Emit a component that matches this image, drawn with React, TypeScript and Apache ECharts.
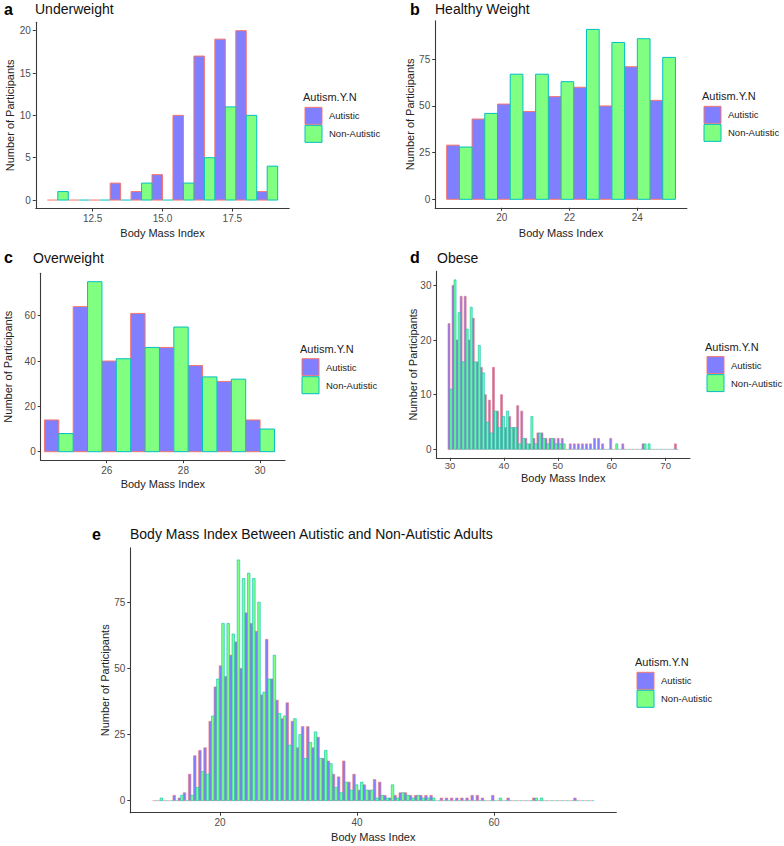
import React, { useEffect, useRef } from 'react';
import * as echarts from 'echarts';

// ---------------- DATA ----------------
const BIN_WIDTH = 0.75;

// a: Underweight (first bin left edge 10.875)
const aFirstEdge = 10.875;
const aAutistic = [0, 0, 0, 2, 1, 3, 10, 17, 19, 20, 1];
const aNonAutistic = [1, 0, 0, 0, 2, 0, 2, 5, 11, 10, 4];
const aXTicks = [12.5, 15, 17.5];
const aYTicks = [0, 5, 10, 15, 20];

// b: Healthy Weight (first bin left edge 18.375)
const bFirstEdge = 18.375;
const bAutistic = [29, 43, 51, 47, 55, 60, 50, 71, 53];
const bNonAutistic = [28, 46, 67, 67, 63, 91, 84, 86, 76];
const bXTicks = [20, 22, 24];
const bYTicks = [0, 25, 50, 75];

// c: Overweight (first bin left edge 24.375)
const cFirstEdge = 24.375;
const cAutistic = [14, 64, 40, 61, 46, 38, 31, 14];
const cNonAutistic = [8, 75, 41, 46, 55, 33, 32, 10];
const cXTicks = [26, 28, 30];
const cYTicks = [0, 20, 40, 60];

// d: Obese (first bin left edge 29.625)
const dFirstEdge = 29.625;
const dAutistic = [23, 30, 20, 28, 28, 20, 24, 16, 15, 10, 9, 15, 7, 10, 4, 6, 4, 8, 7, 2, 1, 2, 3, 3, 2, 2, 2, 2, 2, 0, 1, 1, 1, 1, 1, 1, 2, 2, 1, 0, 2, 0, 0, 1, 0, 0, 0, 0, 1, 0, 0, 0, 0, 0, 0, 0, 1];
const dNonAutistic = [11, 31, 25, 16, 22, 26, 16, 19, 14, 5, 3, 7, 4, 6, 7, 4, 4, 1, 2, 1, 6, 1, 3, 2, 1, 2, 1, 1, 1, 0, 0, 0, 0, 0, 0, 0, 0, 0, 0, 0, 0, 1, 0, 0, 0, 0, 0, 0, 1, 1, 0, 0, 0, 0, 0, 0, 0];
const dXTicks = [30, 40, 50, 60, 70];
const dYTicks = [0, 10, 20, 30];

// e: all adults (first bin left edge 10.125)
const eFirstEdge = 10.125;
const eAutistic = [0, 0, 0, 0, 2, 1, 3, 10, 17, 19, 20, 30, 43, 51, 47, 55, 60, 50, 71, 67, 64, 40, 61, 46, 38, 31, 37, 30, 20, 28, 28, 20, 24, 16, 15, 10, 9, 15, 7, 10, 4, 6, 4, 8, 7, 2, 1, 2, 3, 3, 2, 2, 2, 2, 2, 0, 1, 1, 1, 1, 1, 1, 2, 2, 1, 0, 2, 0, 0, 1, 0, 0, 0, 0, 1, 0, 0, 0, 0, 0, 0, 0, 1, 0, 0, 0];
const eNonAutistic = [0, 1, 0, 0, 0, 2, 0, 2, 5, 11, 10, 32, 46, 67, 67, 63, 91, 84, 86, 84, 75, 41, 46, 55, 33, 32, 21, 31, 25, 16, 22, 26, 16, 19, 14, 5, 3, 7, 4, 6, 7, 4, 4, 1, 2, 1, 6, 1, 3, 2, 1, 2, 1, 1, 1, 0, 0, 0, 0, 0, 0, 0, 0, 0, 0, 0, 0, 1, 0, 0, 0, 0, 0, 0, 1, 1, 0, 0, 0, 0, 0, 0, 0, 0, 0, 0];
const eXTicks = [20, 40, 60];
const eYTicks = [0, 25, 50, 75];

const groupNames = ['Autistic', 'Non-Autistic'];
const legendTitle = 'Autism.Y.N';
const xTitle = 'Body Mass Index';
const yTitle = 'Number of Participants';

// ---------------- STYLE / LAYOUT ----------------
const FONT = '"Liberation Sans", Arial, Helvetica, sans-serif';
const AUT_FILL = '#7F7FFF';
const NON_FILL = '#80FF80';
const AUT_LINE = '#F8766D';
const NON_LINE = '#00BFC4';
const AXIS_COLOR = '#3a3a3a';
const LABEL_COLOR = '#4D4D4D';

type Panel = {
  tag: string;
  title: string;
  firstEdge: number;
  aut: number[];
  non: number[];
  xTicks: number[];
  yTicks: number[];
  xDecimals: number;
  grid: { left: number; top: number; width: number; height: number };
  xMin: number; xMax: number; yMin: number; yMax: number;
  tagPos: [number, number];
  titlePos: [number, number];
  yTitleX: number;
  xTitleY: number;
  legendX: number;
  barLine: number;
  titleSize: number;
  xLabelMargin: number;
  xLabelSize: number;
};

const panels: Panel[] = [
  {
    tag: 'a', title: 'Underweight', firstEdge: aFirstEdge, aut: aAutistic, non: aNonAutistic,
    xTicks: aXTicks, yTicks: aYTicks, xDecimals: 1,
    grid: { left: 35.8, top: 22.2, width: 253.4, height: 186.3 },
    xMin: 10.4625, xMax: 19.5375, yMin: -1, yMax: 21,
    tagPos: [4, 9], titlePos: [35, 9], yTitleX: 10, xTitleY: 232.5, legendX: 305, barLine: 1, titleSize: 14,
    xLabelMargin: 5, xLabelSize: 10,
  },
  {
    tag: 'b', title: 'Healthy Weight', firstEdge: bFirstEdge, aut: bAutistic, non: bNonAutistic,
    xTicks: bXTicks, yTicks: bYTicks, xDecimals: 0,
    grid: { left: 435.2, top: 20.9, width: 251.7, height: 186.9 },
    xMin: 18.0375, xMax: 25.4625, yMin: -4.55, yMax: 95.55,
    tagPos: [410, 9], titlePos: [435, 9], yTitleX: 410, xTitleY: 233, legendX: 704, barLine: 1, titleSize: 14,
    xLabelMargin: 5, xLabelSize: 10,
  },
  {
    tag: 'c', title: 'Overweight', firstEdge: cFirstEdge, aut: cAutistic, non: cNonAutistic,
    xTicks: cXTicks, yTicks: cYTicks, xDecimals: 0,
    grid: { left: 40.7, top: 273.2, width: 244.3, height: 187 },
    xMin: 24.278, xMax: 30.65, yMin: -3.75, yMax: 78.75,
    tagPos: [4, 257], titlePos: [33, 258], yTitleX: 8, xTitleY: 484, legendX: 302, barLine: 1, titleSize: 14,
    xLabelMargin: 5, xLabelSize: 10,
  },
  {
    tag: 'd', title: 'Obese', firstEdge: dFirstEdge, aut: dAutistic, non: dNonAutistic,
    xTicks: dXTicks, yTicks: dYTicks, xDecimals: 0,
    grid: { left: 436.45, top: 271.4, width: 253.5, height: 186.4 },
    xMin: 27.4875, xMax: 74.5125, yMin: -1.55, yMax: 32.55,
    tagPos: [410, 257], titlePos: [437, 258], yTitleX: 413, xTitleY: 477.5, legendX: 707, barLine: 0.6, titleSize: 14,
    xLabelMargin: 3, xLabelSize: 9.5,
  },
  {
    tag: 'e', title: 'Body Mass Index Between Autistic and Non-Autistic Adults', firstEdge: eFirstEdge,
    aut: eAutistic, non: eNonAutistic, xTicks: eXTicks, yTicks: eYTicks, xDecimals: 0,
    grid: { left: 130.3, top: 547.9, width: 486, height: 264.8 },
    xMin: 6.9, xMax: 77.85, yMin: -4.55, yMax: 95.55,
    tagPos: [92, 534], titlePos: [130, 534], yTitleX: 105, xTitleY: 836.5, legendX: 637, barLine: 0.6, titleSize: 14,
    xLabelMargin: 5, xLabelSize: 10,
  },
];

function histSeries(idx: number, values: number[], firstEdge: number, half: number, fill: string, stroke: string, lw: number) {
  const data = values.map((v, i) => {
    const x0 = firstEdge + i * BIN_WIDTH + (half * BIN_WIDTH) / 2;
    return [x0, x0 + BIN_WIDTH / 2, v];
  });
  return {
    type: 'custom',
    xAxisIndex: idx,
    yAxisIndex: idx,
    data,
    silent: true,
    clip: false,
    encode: { x: [0, 1], y: 2 },
    renderItem: (_params: any, api: any) => {
      const x0 = api.value(0);
      const x1 = api.value(1);
      const v = api.value(2);
      const p0 = api.coord([x0, 0]);
      const p1 = api.coord([x1, v]);
      if (v === 0) {
        return {
          type: 'line',
          shape: { x1: p0[0], y1: p0[1], x2: p1[0], y2: p0[1] },
          style: { stroke, lineWidth: lw },
        };
      }
      return {
        type: 'rect',
        shape: { x: p0[0], y: p1[1], width: p1[0] - p0[0], height: p0[1] - p1[1] },
        style: { fill, stroke, lineWidth: lw },
      };
    },
  };
}

function buildOption() {
  const grids: any[] = [];
  const xAxes: any[] = [];
  const yAxes: any[] = [];
  const series: any[] = [];
  const graphics: any[] = [];

  panels.forEach((p, i) => {
    grids.push({ ...p.grid, containLabel: false });
    xAxes.push({
      type: 'value', gridIndex: i, min: p.xMin, max: p.xMax,
      axisLine: { show: true, onZero: false, lineStyle: { color: AXIS_COLOR, width: 1.1 } },
      axisTick: { show: true, length: 3, customValues: p.xTicks, lineStyle: { color: AXIS_COLOR, width: 1 } },
      axisLabel: {
        show: true, customValues: p.xTicks, color: LABEL_COLOR, fontSize: p.xLabelSize, fontFamily: FONT,
        margin: p.xLabelMargin,
        formatter: (v: number) => v.toFixed(p.xDecimals),
      },
      splitLine: { show: false },
    });
    yAxes.push({
      type: 'value', gridIndex: i, min: p.yMin, max: p.yMax,
      axisLine: { show: true, onZero: false, lineStyle: { color: AXIS_COLOR, width: 1.1 } },
      axisTick: { show: true, length: 3, customValues: p.yTicks, lineStyle: { color: AXIS_COLOR, width: 1 } },
      axisLabel: {
        show: true, customValues: p.yTicks, color: LABEL_COLOR, fontSize: 10, fontFamily: FONT, margin: 5,
        formatter: (v: number) => String(v),
      },
      splitLine: { show: false },
    });
    series.push(histSeries(i, p.aut, p.firstEdge, 0, AUT_FILL, AUT_LINE, p.barLine));
    series.push(histSeries(i, p.non, p.firstEdge, 1, NON_FILL, NON_LINE, p.barLine));

    const cx = p.grid.left + p.grid.width / 2;
    const cy = p.grid.top + p.grid.height / 2;

    // panel tag + title
    graphics.push({
      type: 'text', x: p.tagPos[0], y: p.tagPos[1], silent: true,
      style: { text: p.tag, fontSize: 16, fontWeight: 'bold', fontFamily: FONT, fill: '#000', textAlign: 'left', textVerticalAlign: 'middle' },
    });
    graphics.push({
      type: 'text', x: p.titlePos[0], y: p.titlePos[1], silent: true,
      style: { text: p.title, fontSize: p.titleSize, fontFamily: FONT, fill: '#111', textAlign: 'left', textVerticalAlign: 'middle' },
    });
    // axis titles
    graphics.push({
      type: 'text', x: cx, y: p.xTitleY, silent: true,
      style: { text: xTitle, fontSize: 11, fontFamily: FONT, fill: '#222', textAlign: 'center', textVerticalAlign: 'middle' },
    });
    graphics.push({
      type: 'text', x: p.yTitleX, y: cy, rotation: Math.PI / 2, silent: true,
      style: { text: yTitle, fontSize: 11, fontFamily: FONT, fill: '#222', textAlign: 'center', textVerticalAlign: 'middle' },
    });
    // legend
    graphics.push({
      type: 'text', x: p.legendX - 2, y: cy - 18, silent: true,
      style: { text: legendTitle, fontSize: 11, fontFamily: FONT, fill: '#222', textAlign: 'left', textVerticalAlign: 'middle' },
    });
    const keys = [
      { fill: AUT_FILL, stroke: AUT_LINE, label: groupNames[0], top: cy - 8 },
      { fill: NON_FILL, stroke: NON_LINE, label: groupNames[1], top: cy + 10 },
    ];
    keys.forEach((k) => {
      graphics.push({
        type: 'rect', silent: true,
        shape: { x: p.legendX, y: k.top, width: 17, height: 17 },
        style: { fill: k.fill, stroke: k.stroke, lineWidth: 1 },
      });
      graphics.push({
        type: 'text', x: p.legendX + 24, y: k.top + 8.5, silent: true,
        style: { text: k.label, fontSize: 9.5, fontFamily: FONT, fill: '#222', textAlign: 'left', textVerticalAlign: 'middle' },
      });
    });
  });

  return {
    animation: false,
    backgroundColor: '#ffffff',
    grid: grids,
    xAxis: xAxes,
    yAxis: yAxes,
    series,
    graphic: graphics,
  };
}

export default function App() {
  const ref = useRef<HTMLDivElement>(null);
  useEffect(() => {
    document.body.style.margin = '0';
    if (!ref.current) return;
    const chart = echarts.init(ref.current, undefined, { renderer: 'svg' });
    chart.setOption(buildOption() as any);
    return () => {
      chart.dispose();
    };
  }, []);
  return <div ref={ref} style={{ width: 784, height: 846 }} />;
}
